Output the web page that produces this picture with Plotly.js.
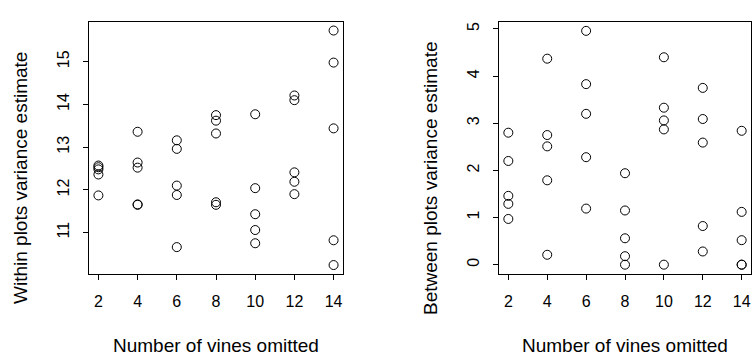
<!DOCTYPE html>
<html>
<head>
<meta charset="utf-8">
<script src="https://cdn.plot.ly/plotly-3.0.1.min.js"></script>
<style>html,body{margin:0;padding:0;background:#fff;}#chart{width:753px;height:356px;}</style>
</head>
<body>
<div id="chart"></div>
<script>
// Data (5 estimates per number of vines omitted)
var vinesOmitted = [2,2,2,2,2, 4,4,4,4,4, 6,6,6,6,6, 8,8,8,8,8, 10,10,10,10,10, 12,12,12,12,12, 14,14,14,14,14];
var withinVariance = [
  12.57,12.53,12.48,12.36,11.87,
  13.36,12.64,12.52,11.66,11.65,
  13.16,12.96,12.10,11.88,10.66,
  13.75,13.62,13.32,11.71,11.65,
  13.77,12.04,11.43,11.06,10.75,
  14.21,14.10,12.41,12.19,11.90,
  15.73,14.98,13.44,10.82,10.24
];
var betweenVariance = [
  2.80,2.20,1.46,1.29,0.97,
  4.37,2.75,2.51,1.79,0.21,
  4.96,3.83,3.20,2.28,1.19,
  1.94,1.15,0.56,0.18,0.00,
  4.40,3.33,3.06,2.87,0.00,
  3.75,3.09,2.59,0.82,0.28,
  2.84,1.12,0.52,0.00,0.00
];
var xTicks = [2,4,6,8,10,12,14];
var leftYTicks = [11,12,13,14,15];
var rightYTicks = [0,1,2,3,4,5];
var xTitle = "Number of vines omitted";
var leftYTitle = "Within plots variance estimate";
var rightYTitle = "Between plots variance estimate";

var FONT = "Liberation Sans, Arial, Helvetica, sans-serif";
var marker = {symbol: "circle-open", size: 9, color: "#000", line: {color: "#000", width: 1}};

var traces = [
  {x: vinesOmitted, y: withinVariance, type: "scatter", mode: "markers", marker: marker, xaxis: "x", yaxis: "y", hoverinfo: "x+y"},
  {x: vinesOmitted, y: betweenVariance, type: "scatter", mode: "markers", marker: marker, xaxis: "x2", yaxis: "y2", hoverinfo: "x+y"}
];

function xAxis(domain, anchor) {
  return {
    domain: domain, anchor: anchor, range: [1.52, 14.48],
    tickmode: "array", tickvals: xTicks, ticktext: xTicks.map(String),
    ticks: "outside", ticklen: 5, tickwidth: 1, tickcolor: "#000",
    showline: true, linecolor: "#000", linewidth: 1, mirror: true,
    showgrid: false, zeroline: false,
    tickfont: {family: FONT, size: 16, color: "#000"},
    ticklabelstandoff: 8,
    automargin: false
  };
}
function yAxis(domain, anchor, range, vals) {
  return {
    domain: domain, anchor: anchor, range: range,
    tickmode: "array", tickvals: vals, ticktext: vals.map(String),
    ticks: "outside", ticklen: 5, tickwidth: 1, tickcolor: "#000",
    showline: true, linecolor: "#000", linewidth: 1, mirror: true,
    showgrid: false, zeroline: false, tickangle: -90,
    tickfont: {family: FONT, size: 16, color: "#000"},
    ticklabelstandoff: 8,
    automargin: false
  };
}

var leftDom = [89/753, 343/753];
var rightDom = [499/753, 751/753];
var yd = [0.2303, 0.9382];
var titleFont = {family: FONT, size: 19, color: "#000"};
function ann(text, x, y, angle) {
  return {text: text, xref: "paper", yref: "paper", x: x, y: y, xanchor: "center", yanchor: "middle",
          showarrow: false, font: titleFont, textangle: angle};
}
var layout = {
  width: 753, height: 356,
  margin: {l: 0, r: 0, t: 0, b: 0},
  paper_bgcolor: "#fff", plot_bgcolor: "#fff",
  showlegend: false,
  font: {family: FONT, color: "#000"},
  xaxis: xAxis(leftDom, "y"),
  xaxis2: xAxis(rightDom, "y2"),
  yaxis: yAxis(yd, "x", [10.03, 15.93], leftYTicks),
  yaxis2: yAxis(yd, "x2", [-0.198, 5.148], rightYTicks),
  annotations: [
    ann(xTitle, (leftDom[0] + leftDom[1]) / 2, 11/356, 0),
    ann(xTitle, (rightDom[0] + rightDom[1]) / 2, 11/356, 0),
    ann(leftYTitle, 20/753, 0.5, -90),
    ann(rightYTitle, 430/753, 0.5, -90)
  ]
};

Plotly.newPlot("chart", traces, layout, {staticPlot: true, displayModeBar: false});
</script>
</body>
</html>
